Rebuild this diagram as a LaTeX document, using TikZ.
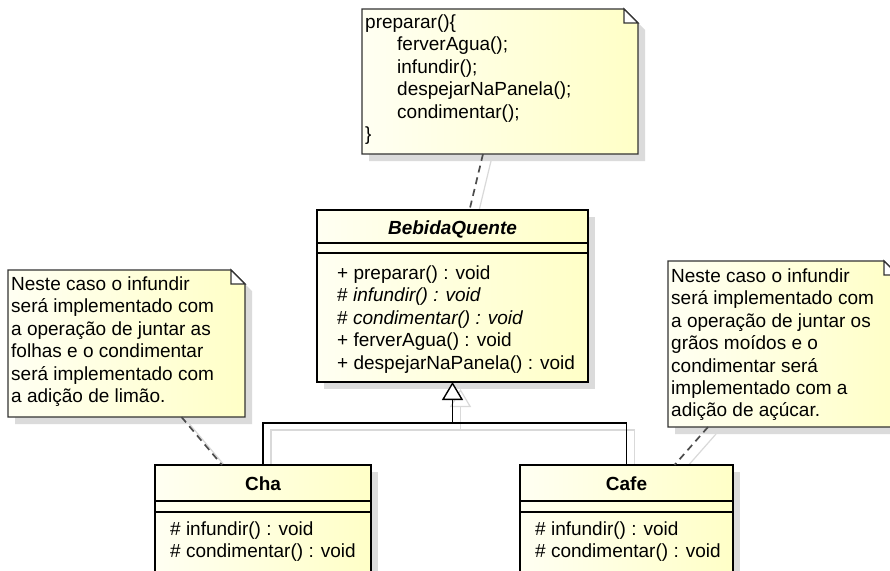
\documentclass[tikz,border=0pt]{standalone}
\usepackage{fontspec}
\setmainfont{Liberation Sans}
\usetikzlibrary{arrows.meta,shadows}

\pgfdeclarelayer{fundo}
\pgfsetlayers{fundo,main}

\tikzset{
  amarelo/.style={left color=yellow!5, right color=yellow!22},
  sombra/.style={drop shadow={shadow xshift=7pt, shadow yshift=-7pt, fill=black!14, opacity=1}},
  classe/.style={draw=black, line width=2.6pt, amarelo, sombra, anchor=north west, inner sep=0pt, outer sep=0pt},
  nota/.style={anchor=north west, inner sep=0pt, outer sep=0pt},
  texto/.style={anchor=north west, align=left, inner sep=0pt},
  titulo/.style={anchor=base, font=\fontsize{19}{22.4}\selectfont\bfseries},
  divisao/.style={line width=1.6pt},
  ligacao/.style={line width=1.7pt, black!70, dash pattern=on 7pt off 5pt},
  heranca/.style={line width=1.4pt},
  sombralinha/.style={line width=1.2pt, black!15},
}

% contorno da nota com o canto dobrado
\newcommand{\dobra}[1]{%
  \begin{scope}[transform canvas={xshift=7pt, yshift=-7pt}]
    \fill[black!14] (#1.north west) -- ([xshift=-14pt]#1.north east) -- ([yshift=-14pt]#1.north east) -- (#1.south east) -- (#1.south west) -- cycle;
  \end{scope}
  \draw[line width=1.3pt, black!80, amarelo] (#1.north west) -- ([xshift=-14pt]#1.north east) -- ([yshift=-14pt]#1.north east) -- (#1.south east) -- (#1.south west) -- cycle;
  \draw[line width=1.3pt, black!80, fill=white] ([xshift=-14pt]#1.north east) -- ([xshift=-14pt,yshift=-14pt]#1.north east) -- ([yshift=-14pt]#1.north east) -- cycle;
}

\begin{document}
\begin{tikzpicture}[x=1pt, y=-1pt, font=\fontsize{19}{22.4}\selectfont] % eixo y para baixo
\useasboundingbox (0,0) rectangle (890,570);
\begin{pgfonlayer}{fundo}
  \fill[white] (0,0) rectangle (890,570); % fundo branco
\end{pgfonlayer}

  % notas
\node[nota, minimum width=276pt, minimum height=145pt] (notaPreparar) at (362,9) {};
\node[nota, minimum width=237pt, minimum height=147pt] (notaCha) at (8,270) {};
\node[nota, minimum width=230pt, minimum height=166pt] (notaCafe) at (668,261) {};
\dobra{notaPreparar}
\dobra{notaCha}
\dobra{notaCafe}

\node[texto] (txtPreparar) at ([shift={(3pt,-5.5pt)}]notaPreparar.north west) {preparar()\{\\
  \hspace*{32pt}ferverAgua();\\
  \hspace*{32pt}infundir();\\
  \hspace*{32pt}despejarNaPanela();\\
  \hspace*{32pt}condimentar();\\
  \}};
\node[texto] (txtCha) at ([shift={(3pt,-6.5pt)}]notaCha.north west) {Neste caso o infundir\\
  será implementado com\\
  a operação de juntar as\\
  folhas e o condimentar\\
  será implementado com\\
  a adição de limão.};
\node[texto] (txtCafe) at ([shift={(3pt,-7.5pt)}]notaCafe.north west) {Neste caso o infundir\\
  será implementado com\\
  a operação de juntar os\\
  grãos moídos e o\\
  condimentar será\\
  implementado com a\\
  adição de açúcar.};

  % classe abstrata
\node[classe, minimum width=271pt, minimum height=172pt] (bebida) at (317,210) {};
\draw[divisao] ([yshift=-33pt]bebida.north west) -- ([yshift=-33pt]bebida.north east);
\draw[divisao] ([yshift=-43pt]bebida.north west) -- ([yshift=-43pt]bebida.north east);
\node[titulo, font=\fontsize{19}{22.4}\selectfont\bfseries\itshape] (bebidaNome) at ([yshift=-24.5pt]bebida.north) {BebidaQuente};
\node[texto] (bebidaOps) at ([shift={(20pt,-55.5pt)}]bebida.north west) {+ preparar() : void\\
  \# \textit{infundir() : void}\\
  \# \textit{condimentar() : void}\\
  + ferverAgua() : void\\
  + despejarNaPanela() : void};

  % subclasses
\node[classe, minimum width=216pt, minimum height=120pt] (cha) at (155,465) {};
\draw[divisao] ([yshift=-36pt]cha.north west) -- ([yshift=-36pt]cha.north east);
\draw[divisao] ([yshift=-47pt]cha.north west) -- ([yshift=-47pt]cha.north east);
\node[titulo] (chaNome) at ([yshift=-25.6pt]cha.north) {Cha};
\node[texto] (chaOps) at ([shift={(15pt,-56.5pt)}]cha.north west) {\# infundir() : void\\
  \# condimentar() : void};

\node[classe, minimum width=213pt, minimum height=120pt] (cafe) at (520,465) {};
\draw[divisao] ([yshift=-36pt]cafe.north west) -- ([yshift=-36pt]cafe.north east);
\draw[divisao] ([yshift=-47pt]cafe.north west) -- ([yshift=-47pt]cafe.north east);
\node[titulo] (cafeNome) at ([yshift=-25.6pt]cafe.north) {Cafe};
\node[texto] (cafeOps) at ([shift={(15pt,-56.5pt)}]cafe.north west) {\# infundir() : void\\
  \# condimentar() : void};

  % heranca
\coordinate (juncao) at (bebida.south |- 0,423);
\draw[heranca] (cha.north) |- (juncao) -| (cafe.north);
\draw[heranca, -{Triangle[width=21pt, length=18pt, fill=white]}] (juncao) -- (bebida.south);

  % ligacoes das notas
\draw[ligacao] ([xshift=-17pt]notaPreparar.south) -- ([xshift=17pt]bebida.north);
\draw[ligacao] ([xshift=55pt]notaCha.south) -- ([xshift=-41pt]cha.north);
\draw[ligacao] ([xshift=-75pt]notaCafe.south) -- ([xshift=48pt]cafe.north);

  % sombras das linhas
\begin{pgfonlayer}{fundo}
\begin{scope}[transform canvas={xshift=8pt, yshift=-7pt}]
  \draw[sombralinha] (cha.north) |- (juncao) -| (cafe.north);
  \draw[sombralinha, -{Triangle[width=21pt, length=18pt, fill=white]}] (juncao) -- (bebida.south);
  \draw[sombralinha] ([xshift=-17pt]notaPreparar.south) -- ([xshift=17pt]bebida.north);
  \draw[sombralinha] ([xshift=55pt]notaCha.south) -- ([xshift=-41pt]cha.north);
  \draw[sombralinha] ([xshift=-75pt]notaCafe.south) -- ([xshift=48pt]cafe.north);
\end{scope}
\end{pgfonlayer}
\end{tikzpicture}
\end{document}
